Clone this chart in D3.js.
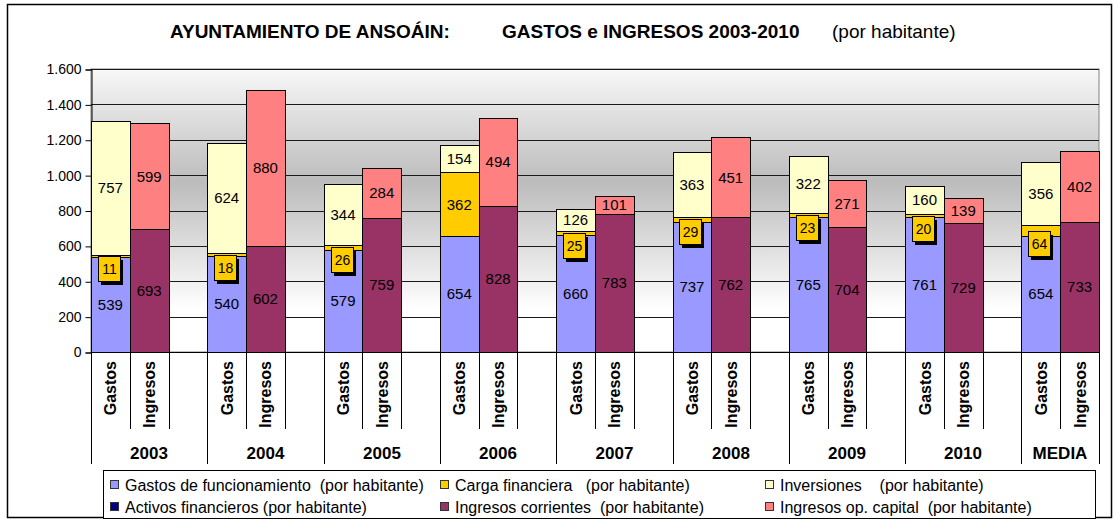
<!DOCTYPE html>
<html>
<head>
<meta charset="utf-8">
<script src="https://cdn.jsdelivr.net/npm/d3@7"></script>
<style>
  body { margin: 0; background: #fff; }
  text { font-family: Arial, "Liberation Sans", sans-serif; fill: #000; }
</style>
</head>
<body>
<div id="chart-area"></div>
<script>
// data (per habitante)
const years = ["2003", "2004", "2005", "2006", "2007", "2008", "2009", "2010", "MEDIA"];
const subCats = ["Gastos", "Ingresos"];
const gastosFuncionamiento = [539, 540, 579, 654, 660, 737, 765, 761, 654];
const cargaFinanciera = [11, 18, 26, 362, 25, 29, 23, 20, 64];
const inversiones = [757, 624, 344, 154, 126, 363, 322, 160, 356];
const activosFinancieros = [0, 0, 0, 0, 0, 0, 0, 0, 0];
const ingresosCorrientes = [693, 602, 759, 828, 783, 762, 704, 729, 733];
const ingresosCapital = [599, 880, 284, 494, 101, 451, 271, 139, 402];
const yTicks = [0, 200, 400, 600, 800, 1000, 1200, 1400, 1600];

const legendItems = [
    { name: "Gastos de funcionamiento  (por habitante)", color: "#9999FF" },
    { name: "Carga financiera   (por habitante)", color: "#FFCC00" },
    { name: "Inversiones    (por habitante)", color: "#FFFFCC" },
    { name: "Activos financieros (por habitante)", color: "#000080" },
    { name: "Ingresos corrientes  (por habitante)", color: "#993366" },
    { name: "Ingresos op. capital  (por habitante)", color: "#FF8080" }
];

var W = 1114, H = 519;
var plot = { left: 91, right: 1099, top: 69, bottom: 352 };

var svg = d3.select("#chart-area")
    .append("svg")
        .attr("width", W)
        .attr("height", H);

// gradient for plot background
var defs = svg.append("defs");
var grad = defs.append("linearGradient")
    .attr("id", "bg").attr("x1", 0).attr("y1", 0).attr("x2", 0).attr("y2", 1);
grad.append("stop").attr("offset", "0%").attr("stop-color", "#f8f8f8");
grad.append("stop").attr("offset", "40%").attr("stop-color", "#bcbcbc");
grad.append("stop").attr("offset", "85%").attr("stop-color", "#ffffff");
grad.append("stop").attr("offset", "100%").attr("stop-color", "#ffffff");

// outer frame
svg.append("rect")
    .attr("x", 7.5).attr("y", 4.5)
    .attr("width", 1104).attr("height", 513)
    .attr("fill", "#fff").attr("stroke", "#000").attr("stroke-width", 1.5);

// title
var title = svg.append("text")
    .attr("y", 38)
    .attr("font-size", "19px");
title.append("tspan").attr("x", 170).attr("font-weight", "bold").text("AYUNTAMIENTO DE ANSOÁIN:");
title.append("tspan").attr("x", 502).attr("font-weight", "bold").text("GASTOS e INGRESOS 2003-2010");
title.append("tspan").attr("x", 832).text("(por habitante)");

// slots: Gastos, Ingresos, gap per year (no gap after the last)
var slots = [];
years.forEach(function(yr, i) {
    subCats.forEach(function(c) { slots.push(yr + "|" + c); });
    if (i < years.length - 1) slots.push(yr + "|gap");
});

var x = d3.scaleBand()
    .domain(slots)
    .range([plot.left, plot.right])
    .padding(0);

var y = d3.scaleLinear()
    .domain([0, 1600])
    .range([plot.bottom, plot.top]);

var fmt = d3.formatLocale({ decimal: ",", thousands: ".", grouping: [3], currency: ["", "€"] }).format(",");

// plot area
svg.append("rect")
    .attr("x", plot.left).attr("y", plot.top)
    .attr("width", plot.right - plot.left).attr("height", plot.bottom - plot.top)
    .attr("fill", "url(#bg)").attr("stroke", "#808080");

// grid lines
svg.append("g").selectAll("line")
    .data(yTicks.slice(1))
    .enter().append("line")
        .attr("x1", plot.left).attr("x2", plot.right)
        .attr("y1", function(d) { return Math.round(y(d)) + 0.5; })
        .attr("y2", function(d) { return Math.round(y(d)) + 0.5; })
        .attr("stroke", "#1a1a1a").attr("stroke-width", 1);

// Y axis
var yAxisCall = d3.axisLeft(y)
    .tickValues(yTicks)
    .tickFormat(fmt)
    .tickSize(6)
    .tickPadding(4);
var yAxis = svg.append("g")
    .attr("class", "y axis")
    .attr("transform", "translate(" + (plot.left + 0.5) + ",0.5)")
    .call(yAxisCall);
yAxis.selectAll("text").attr("font-size", "14px").attr("font-family", "Arial, 'Liberation Sans', sans-serif");
yAxis.selectAll("line, path").attr("stroke", "#000");

// build stacked segments
var segs = [];
years.forEach(function(yr, i) {
    var g = [
        { v: gastosFuncionamiento[i], c: legendItems[0].color },
        { v: cargaFinanciera[i], c: legendItems[1].color, small: true },
        { v: inversiones[i], c: legendItems[2].color },
        { v: activosFinancieros[i], c: legendItems[3].color }
    ];
    var ing = [
        { v: ingresosCorrientes[i], c: legendItems[4].color },
        { v: ingresosCapital[i], c: legendItems[5].color }
    ];
    [[g, "Gastos"], [ing, "Ingresos"]].forEach(function(pair) {
        var base = 0;
        pair[0].forEach(function(s) {
            segs.push({ slot: yr + "|" + pair[1], y0: base, y1: base + s.v, v: s.v, color: s.c, small: s.small });
            base += s.v;
        });
    });
});

var bars = svg.append("g");
bars.selectAll("rect")
    .data(segs.filter(function(d) { return d.v > 0; }))
    .enter().append("rect")
        .attr("x", function(d) { return Math.round(x(d.slot)) + 0.5; })
        .attr("width", function(d) { return Math.round(x(d.slot) + x.bandwidth()) - Math.round(x(d.slot)); })
        .attr("y", function(d) { return Math.round(y(d.y1)) + 0.5; })
        .attr("height", function(d) { return Math.round(y(d.y0)) - Math.round(y(d.y1)); })
        .attr("fill", function(d) { return d.color; })
        .attr("stroke", "#000").attr("stroke-width", 1);

// value labels
var labelled = segs.filter(function(d) { return d.v > 0; });
var big = labelled.filter(function(d) { return !(d.small && d.v < 100); });
var smalls = labelled.filter(function(d) { return d.small && d.v < 100; });

svg.append("g").selectAll("text")
    .data(big)
    .enter().append("text")
        .attr("x", function(d) { return x(d.slot) + x.bandwidth() / 2; })
        .attr("y", function(d) { return y((d.y0 + d.y1) / 2); })
        .attr("dy", "0.35em")
        .attr("text-anchor", "middle")
        .attr("font-size", "15px")
        .text(function(d) { return d.v; });

var boxes = svg.append("g").selectAll("g")
    .data(smalls)
    .enter().append("g")
        .attr("transform", function(d) {
            var cx = x(d.slot) + x.bandwidth() / 2 - 1.5;
            var cy = y((d.y0 + d.y1) / 2) + 13;
            return "translate(" + Math.round(cx) + "," + Math.round(cy) + ")";
        });
boxes.append("rect")
    .attr("x", -8).attr("y", -9).attr("width", 22).attr("height", 25)
    .attr("fill", "#000");
boxes.append("rect")
    .attr("x", -10.5).attr("y", -12.5).attr("width", 22).attr("height", 25)
    .attr("fill", "#FFCC00").attr("stroke", "#000");
boxes.append("text")
    .attr("x", 0.5).attr("dy", "0.35em")
    .attr("text-anchor", "middle")
    .attr("font-size", "14px")
    .text(function(d) { return d.v; });

// X axis line
svg.append("line")
    .attr("x1", plot.left).attr("x2", plot.right)
    .attr("y1", plot.bottom + 0.5).attr("y2", plot.bottom + 0.5)
    .attr("stroke", "#000");

// category dividers
var xAxisG = svg.append("g").attr("class", "x axis");
years.forEach(function(yr, i) {
    var gx = Math.round(x(yr + "|Gastos"));
    var ix = Math.round(x(yr + "|Ingresos"));
    var ex = Math.round(x(yr + "|Ingresos") + x.bandwidth());
    var endX = (i < years.length - 1) ? Math.round(x(yr + "|gap") + x.bandwidth()) : Math.round(plot.right);
    xAxisG.append("line").attr("x1", gx + 0.5).attr("x2", gx + 0.5).attr("y1", plot.bottom).attr("y2", 464).attr("stroke", "#000");
    xAxisG.append("line").attr("x1", ix + 0.5).attr("x2", ix + 0.5).attr("y1", plot.bottom).attr("y2", 429).attr("stroke", "#000");
    xAxisG.append("line").attr("x1", ex + 0.5).attr("x2", ex + 0.5).attr("y1", plot.bottom).attr("y2", 429).attr("stroke", "#000");
    if (i === years.length - 1) {
        xAxisG.append("line").attr("x1", endX + 0.5).attr("x2", endX + 0.5).attr("y1", plot.bottom).attr("y2", 464).attr("stroke", "#000");
    }
    // year label
    xAxisG.append("text")
        .attr("x", (gx + endX) / 2)
        .attr("y", 459)
        .attr("text-anchor", "middle")
        .attr("font-size", "17px")
        .attr("font-weight", "bold")
        .text(yr);
});

// rotated sub labels
xAxisG.selectAll("text.sub")
    .data(slots.filter(function(s) { return s.indexOf("|gap") < 0; }))
    .enter().append("text")
        .attr("class", "sub")
        .attr("transform", function(d) {
            return "translate(" + (x(d) + x.bandwidth() / 2 + 6) + ",361) rotate(-90)";
        })
        .attr("text-anchor", "end")
        .attr("font-size", "16px")
        .attr("font-weight", "bold")
        .text(function(d) { return d.split("|")[1]; });

// legend
var legend = svg.append("g");
legend.append("rect")
    .attr("x", 103.5).attr("y", 470.5)
    .attr("width", 992).attr("height", 48)
    .attr("fill", "#fff").attr("stroke", "#000");
var colX = [110, 440, 765];
var rowY = [480, 502];
var items = legend.selectAll("g.item")
    .data(legendItems)
    .enter().append("g")
        .attr("class", "item")
        .attr("transform", function(d, i) {
            return "translate(" + colX[i % 3] + "," + rowY[Math.floor(i / 3)] + ")";
        });
items.append("rect")
    .attr("x", 0.5).attr("y", 0.5).attr("width", 8).attr("height", 8)
    .attr("fill", function(d) { return d.color; })
    .attr("stroke", "#333");
items.append("text")
    .attr("x", 15).attr("y", 5).attr("dy", "0.35em")
    .attr("font-size", "16px")
    .style("white-space", "pre")
    .text(function(d) { return d.name; });
</script>
</body>
</html>
